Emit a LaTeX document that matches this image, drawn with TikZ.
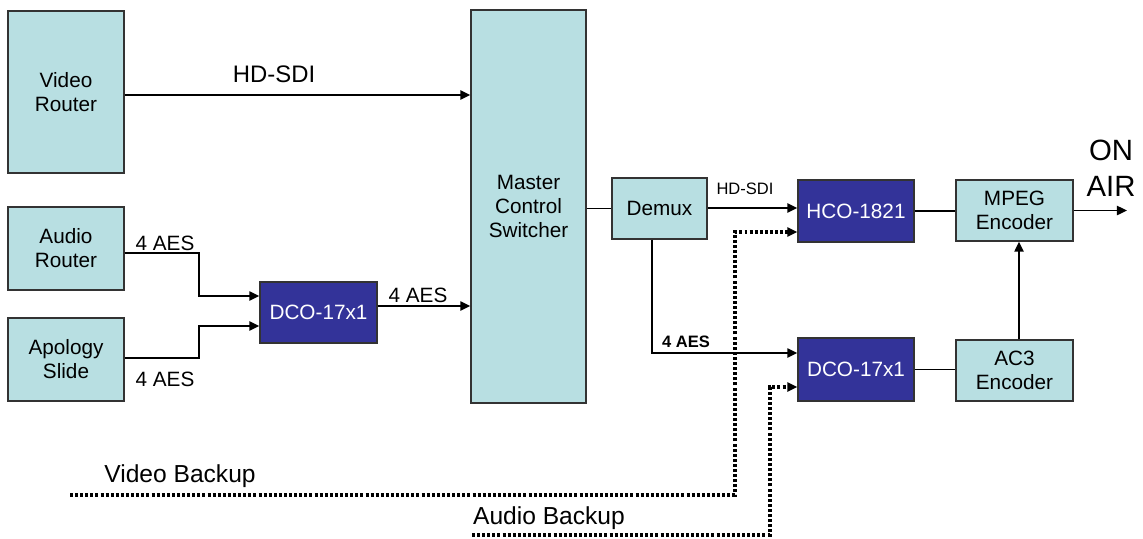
\documentclass[tikz,border=0pt]{standalone}
\usepackage{fontspec}
\setmainfont{Liberation Sans}
\usetikzlibrary{arrows.meta}
\definecolor{boxteal}{RGB}{184,223,226}
\definecolor{boxnavy}{RGB}{51,51,153}
\begin{document}
\begin{tikzpicture}[x=0.02cm,y=-0.02cm,
    lightbox/.style={draw=black!80,fill=boxteal,line width=0.8pt,inner sep=0pt,align=center,font=\fontsize{11.8}{13.6}\selectfont},
    darkbox/.style={lightbox,fill=boxnavy,text=white},
    wire/.style={line width=1.1pt},
    feed/.style={wire,-{Triangle[length=5.7pt,width=5.2pt]}},
    backup/.style={line width=1.9pt,dash pattern=on 1.7pt off 1.2pt,-{Triangle[length=5.7pt,width=5.2pt]}},
    lbl/.style={inner sep=0pt,font=\fontsize{11.8}{13.6}\selectfont},
    smalllbl/.style={inner sep=0pt,font=\fontsize{9.4}{11}\selectfont}]
    \useasboundingbox (0,0) rectangle (1143,538);
    \node[lightbox,minimum width=2.32cm,minimum height=3.24cm] (video) at (66,92) {Video\\Router};
    \node[lightbox,minimum width=2.32cm,minimum height=1.66cm] (audio) at (66,248.5) {Audio\\Router};
    \node[lightbox,minimum width=2.32cm,minimum height=1.66cm] (apology) at (66,359.5) {Apology\\Slide};
    \node[darkbox,minimum width=2.34cm,minimum height=1.22cm] (dcoleft) at (318.5,312.5) {DCO-17x1};
    \node[lightbox,minimum width=2.3cm,minimum height=7.86cm] (mcs) at (528.5,206.5) {Master\\Control\\Switcher};
    \node[lightbox,minimum width=1.9cm,minimum height=1.22cm] (demux) at (659.5,208.5) {Demux};
    \node[darkbox,minimum width=2.32cm,minimum height=1.24cm] (hco) at (856,211) {HCO-1821};
    \node[darkbox,minimum width=2.32cm,minimum height=1.26cm] (dcoright) at (856,369.5) {DCO-17x1};
    \node[lightbox,minimum width=2.34cm,minimum height=1.22cm] (mpeg) at (1014.5,210.5) {MPEG\\Encoder};
    \node[lightbox,minimum width=2.34cm,minimum height=1.22cm] (ac3) at (1014.5,370.5) {AC3\\Encoder};
    \coordinate (air) at (1127,210.5);
    \coordinate (vidbk) at (70,495);
    \coordinate (audbk) at (472,535);

    \draw[feed] ([yshift=-0.06cm]video.east) -- ([yshift=-0.06cm]video.east -| mcs.west);
    \draw[feed] ([yshift=-0.09cm]audio.east) -- ++(1.48cm,0) |- ([yshift=0.33cm]dcoleft.west);
    \draw[feed] ([yshift=0.03cm]apology.east) -- ++(1.48cm,0) |- ([yshift=-0.27cm]dcoleft.west);
    \draw[feed] ([yshift=0.13cm]dcoleft.east) -- ([yshift=0.13cm]dcoleft.east -| mcs.west);
    \draw[wire] (mcs.east |- demux.west) -- (demux.west);
    \draw[feed] ([yshift=0.01cm]demux.east) -- ([yshift=0.01cm]demux.east -| hco.west);
    \draw[feed] ([xshift=-0.15cm]demux.south) |- ([yshift=0.33cm]dcoright.west);
    \draw[wire] (hco.east) -- (hco.east -| mpeg.west);
    \draw[wire] (dcoright.east) -- (dcoright.east -| ac3.west);
    \draw[feed] ([xshift=0.09cm]ac3.north) -- ([xshift=0.09cm]mpeg.south);
    \draw[feed] (mpeg.east) -- (air);
    \draw[backup] (vidbk) -- ++(13.3cm,0) |- ([yshift=-0.42cm]hco.west);
    \draw[backup] (audbk) -- ++(5.96cm,0) |- ([yshift=-0.35cm]dcoright.west);

    \node[lbl,font=\fontsize{13.6}{15}\selectfont] (hdsdi) at (274,74) {HD-SDI};
    \node[lbl] (aesaudio) at (165,243) {4 AES};
    \node[lbl] (aesapology) at (165,379) {4 AES};
    \node[lbl] (aesdco) at (418,295) {4 AES};
    \node[smalllbl] (hdsdidemux) at (745,189) {HD-SDI};
    \node[smalllbl,font=\fontsize{9.4}{11}\bfseries] (aesdemux) at (686,342) {4 AES};
    \node[lbl,font=\fontsize{14}{15}\selectfont] (vidbklbl) at (180,476) {Video Backup};
    \node[lbl,font=\fontsize{14}{15}\selectfont] (audbklbl) at (549,518) {Audio Backup};
    \node[lbl,align=center,font=\fontsize{16.7}{20.4}\selectfont] (onair) at (1111,168) {ON\\AIR};
\end{tikzpicture}
\end{document}
